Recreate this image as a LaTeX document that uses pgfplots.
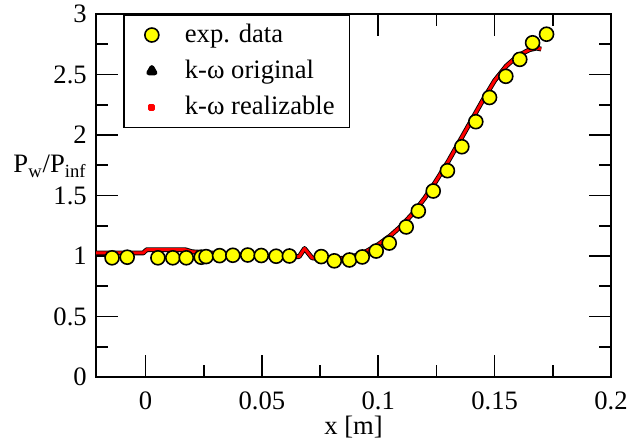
\documentclass[border=0pt]{standalone}
\usepackage{fontspec}
\setmainfont{Liberation Serif}
\usepackage{pgfplots}
\pgfplotsset{compat=1.18}
\definecolor{expyellow}{RGB}{255,255,0}
\definecolor{simred}{RGB}{255,0,0}
\pgfplotstableread{
x y
-0.0144 0.985
-0.0079 0.990
0.0053 0.985
0.0117 0.985
0.0175 0.985
0.0239 0.990
0.0260 0.995
0.0318 1.003
0.0375 1.006
0.0439 1.008
0.0497 1.004
0.0561 0.998
0.0618 1.000
0.0755 0.995
0.0811 0.960
0.0876 0.967
0.0931 0.992
0.0991 1.041
0.1047 1.107
0.1120 1.240
0.1172 1.372
0.1236 1.537
0.1297 1.705
0.1359 1.903
0.1419 2.110
0.1478 2.310
0.1548 2.485
0.1608 2.625
0.1663 2.762
0.1723 2.833
}\expdata
\pgfplotstableread{
x y
-0.0213 1.025
-0.0010 1.025
0.0005 1.052
0.0170 1.052
0.0200 1.035
0.0300 1.022
0.0400 1.010
0.0500 1.000
0.0600 0.992
0.0660 0.995
0.0683 1.062
0.0715 0.985
0.0750 0.975
0.0800 0.972
0.0850 0.982
0.0900 1.002
0.0950 1.040
0.1000 1.095
0.1050 1.165
0.1100 1.250
0.1150 1.355
0.1200 1.480
0.1250 1.625
0.1300 1.780
0.1350 1.950
0.1400 2.120
0.1450 2.290
0.1500 2.450
0.1550 2.570
0.1600 2.655
0.1650 2.705
0.1680 2.718
0.1700 2.710
}\simdata
\begin{document}
\fontsize{13.3}{16}\selectfont
\begin{tikzpicture}
\begin{axis}[name=ax, scale only axis, width=257.5pt, height=181.5pt,
  xmin=-0.0213, xmax=0.2, ymin=0, ymax=3,
  xtick={0,0.05,0.1,0.15,0.2}, ytick={0,0.5,1,1.5,2,2.5,3},
  minor x tick num=1, minor y tick num=1,
  tick align=inside, major tick length=11pt, minor tick length=6pt,
  axis line style={line width=1pt},
  every tick/.style={black, line width=0.8pt},
  tick label style={font=\fontsize{13.3}{16}\selectfont},
  /pgf/number format/assume math mode=true,
  /pgf/number format/fixed,
  scaled x ticks=false,
  xticklabel style={yshift=-3pt},
  xlabel={x [m]},
  xlabel style={font=\fontsize{13.3}{16}\selectfont, yshift=6pt},
  ylabel={P\textsubscript{w}/P\textsubscript{inf}},
  ylabel style={rotate=-90, at={(axis description cs:0,0.58)}, anchor=east, inner sep=0pt, xshift=-4.5pt, font=\fontsize{13.3}{16}\selectfont},
  legend style={at={(axis description cs:0.0524,1)}, anchor=north west, draw=black, line width=0.8pt,
    inner xsep=5.5pt, inner ysep=2.5pt, row sep=2.8pt, column sep=6pt,
    font=\fontsize{13.3}{16}\selectfont},
  legend cell align=left,
]
\addplot[only marks, mark=*, mark size=3.5pt, mark options={draw=black, fill=expyellow, line width=0.8pt},
  legend image code/.code={\path[draw=none, fill=none] (0,0) -- (0.6cm,0); \draw[black, fill=expyellow, line width=0.8pt] (0.3cm,0) circle (3.5pt);}]
  table[x=x, y=y] {\expdata};
\addlegendentry{exp. data}
\addplot[black, line width=2.4pt, line join=round, no marks,
  legend image code/.code={\path[draw=none, fill=none] (0,0) -- (0.6cm,0); \fill[black] plot[mark=triangle*, mark size=1.8pt] coordinates {(0.3cm,0)};}]
  table[x=x, y=y] {\simdata};
\addlegendentry{k-ω original}
\addplot[simred, line width=1.5pt, line join=round, no marks,
  legend image code/.code={\path[draw=none, fill=none] (0,0) -- (0.6cm,0); \fill[simred] (0.3cm-1pt,-1pt) rectangle (0.3cm+1pt,1pt);}]
  table[x=x, y=y] {\simdata};
\addlegendentry{k-ω realizable}
\end{axis}
\pgfresetboundingbox
\path[use as bounding box] ([shift={(-48pt,-35pt)}]ax.south west) rectangle ([shift={(9.5pt,7pt)}]ax.north east);
\end{tikzpicture}
\end{document}
